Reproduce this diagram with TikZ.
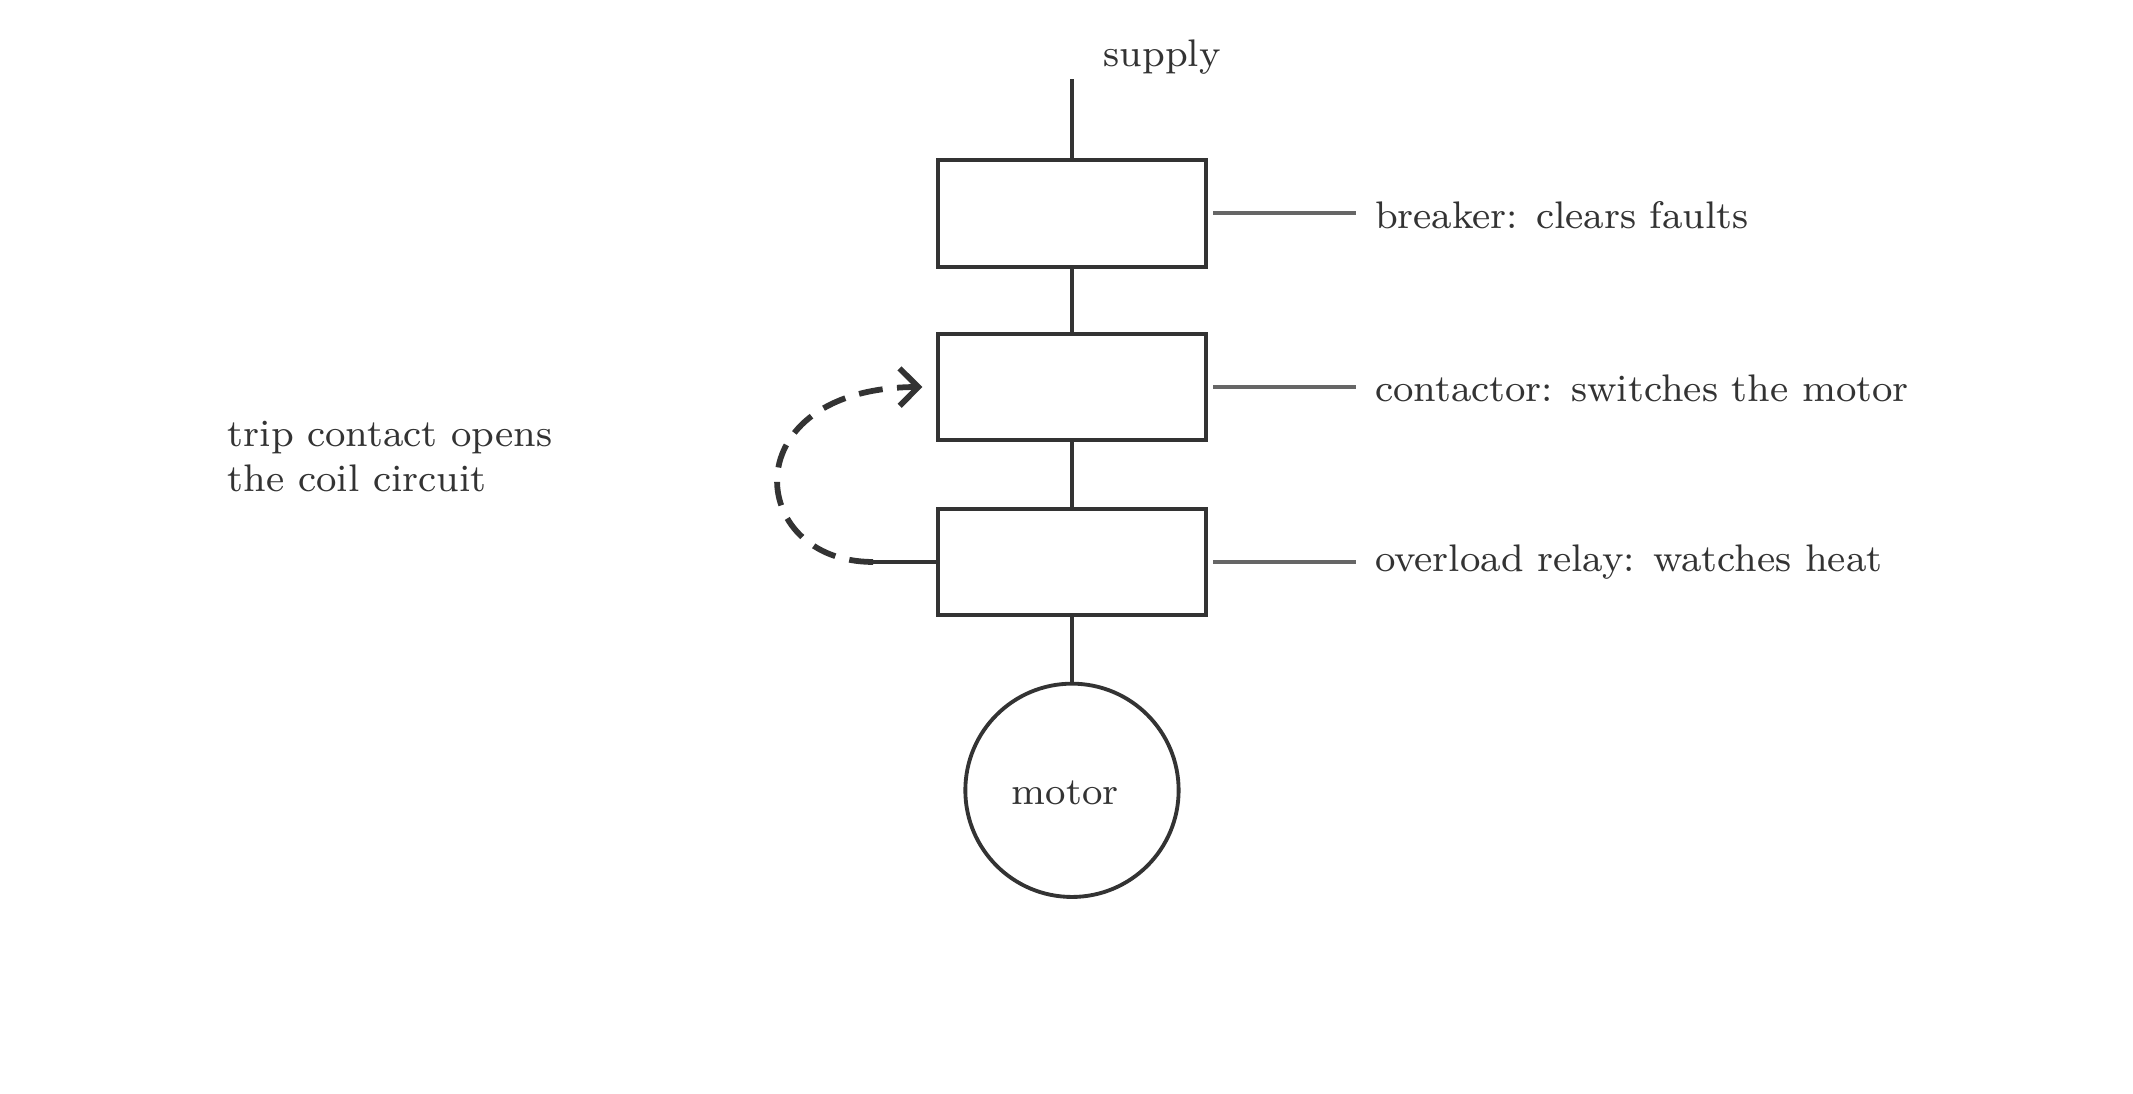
\documentclass[tikz,border=0pt]{standalone}
\usepackage{tikz}
\usetikzlibrary{calc,arrows.meta}
\tikzset{>=Straight Barb,
  part/.style={draw=black!80,thick,minimum width=1.96cm,minimum height=0.78cm,inner sep=0pt},
  wire/.style={draw=black!80,thick},
  tag/.style={draw=black!60,thick},
  note/.style={font=\footnotesize,text=black!80,anchor=west,inner sep=0pt}}

\begin{document}
\begin{tikzpicture}
    \useasboundingbox (0,0) rectangle (15.6,-8.0);
    \node[part] (breaker) at (7.84,-1.56) {};
    \node[part] (contactor) at (7.84,-2.83) {};
    \node[part] (relay) at (7.84,-4.11) {};
    \node[circle,draw=black!80,thick,minimum size=1.56cm,inner sep=0pt] (motor) at (7.84,-5.78) {};
    \node[font=\footnotesize,text=black!80] at (7.79,-5.80) {motor};
    \coordinate (feed) at (7.84,-0.58);
    \node[font=\footnotesize,text=black!80] (supply) at (8.50,-0.42) {supply};
    \draw[wire] (feed) -- (breaker);
    \draw[wire] (breaker) -- (contactor);
    \draw[wire] (contactor) -- (relay);
    \draw[wire] (relay) -- (motor);
    % side labels
    \node[note] (lb) at (10.05,-1.57) {breaker: clears faults};
    \node[note] (lc) at (10.05,-2.84) {contactor: switches the motor};
    \node[note] (lr) at (10.05,-4.11) {overload relay: watches heat};
    \draw[tag] ($(breaker.east)+(0.04,0)$) -- ++(1.04,0);
    \draw[tag] ($(contactor.east)+(0.04,0)$) -- ++(1.04,0);
    \draw[tag] ($(relay.east)+(0.04,0)$) -- ++(1.04,0);
    % trip path
    \draw[wire] (relay.west) -- ++(-0.46,0) coordinate (t);
    \draw[wire,dash pattern=on 5pt off 3pt,->,line width=1.2pt] (t) .. controls (5.45,-4.11) and (5.35,-2.84) .. ($(contactor.west)-(0.1,0)$);
    \node[note,align=left,anchor=north west] (trip) at (1.66,-3.07) {trip contact opens\\the coil circuit};
\end{tikzpicture}
\end{document}
